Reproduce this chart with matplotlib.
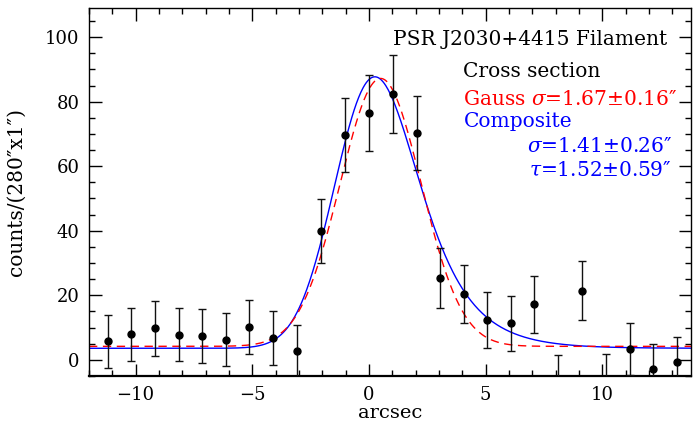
import math
import numpy as np
import matplotlib
matplotlib.use("Agg")
import matplotlib.pyplot as plt
from matplotlib.ticker import MultipleLocator

# ---- data ----
x_arcsec = [-11.2, -10.19, -9.18, -8.15, -7.14, -6.12, -5.13, -4.1, -3.1, -2.07,
            -1.03, 0.0, 1.01, 2.04, 3.04, 4.07, 5.04, 6.1, 7.08, 8.1,
            9.14, 10.15, 11.18, 12.18, 13.2]
counts = [5.8, 7.9, 9.8, 7.8, 7.4, 6.2, 10.2, 6.8, 2.8, 39.9,
          69.6, 76.5, 82.4, 70.4, 25.3, 20.3, 12.4, 11.3, 17.2, -6.4,
          21.4, -6.2, 3.4, -2.8, -0.7]
errors = [8.25, 8.25, 8.5, 8.25, 8.3, 8.2, 8.5, 8.25, 8.1, 10.0,
          11.4, 11.7, 12.0, 11.5, 9.3, 9.0, 8.6, 8.5, 8.8, 8.0,
          9.1, 8.0, 7.95, 7.8, 7.8]

# fitted model parameters (plot units)
gauss_center = 0.5
gauss_sigma = 1.74
gauss_amp = 83.0
gauss_base = 4.2

comp_peak_x = 0.26
comp_sigma = 1.47
comp_tau = 1.58
comp_amp = 84.1
comp_base = 3.6

title_text = "PSR J2030+4415 Filament"
sub_text = "Cross section"
gauss_text = "Gauss $\\sigma$=1.67\u00b10.16\u2033"
comp_text = "Composite"
comp_sig_text = "$\\sigma$=1.41\u00b10.26\u2033"
comp_tau_text = "$\\tau$=1.52\u00b10.59\u2033"

plt.rcParams['font.family'] = ['DejaVu Serif', 'DejaVu Sans']
plt.rcParams['mathtext.fontset'] = 'dejavuserif'

fig = plt.figure(figsize=(6.93, 4.23), dpi=100)
ax = fig.add_axes([0.1284, 0.111, 0.8686, 0.870])

xs = np.linspace(-12, 13.8, 800)
gauss = gauss_base + gauss_amp * np.exp(-(xs - gauss_center) ** 2 / (2 * gauss_sigma ** 2))

def emg(x, mu, s, t):
    z = (s / t - (x - mu) / s) / math.sqrt(2)
    return np.array([math.exp(s * s / (2 * t * t) - (xi - mu) / t) * math.erfc(zi)
                     for xi, zi in zip(x, z)])

raw = emg(xs, 0.0, comp_sigma, comp_tau)
shift = comp_peak_x - xs[np.argmax(raw)]
raw = emg(xs, shift, comp_sigma, comp_tau)
comp = comp_base + comp_amp * raw / raw.max()

ax.plot(xs, comp, color='#0000ff', lw=1.0, zorder=2)
ax.plot(xs, gauss, color='#ff0000', lw=1.0, ls=(0, (6, 4)), zorder=2)

ax.errorbar(x_arcsec, counts, yerr=errors, fmt='o', color='black', ms=5.0,
            ecolor='#111111', elinewidth=1.0, capsize=2.6, capthick=1.0, zorder=3)

ax.set_xlim(-12, 13.8)
ax.set_ylim(-5, 109)
ax.xaxis.set_major_locator(MultipleLocator(5))
ax.xaxis.set_minor_locator(MultipleLocator(1))
ax.yaxis.set_major_locator(MultipleLocator(20))
ax.yaxis.set_minor_locator(MultipleLocator(5))
ax.tick_params(which='both', direction='in', top=True, right=True, labelsize=13, width=1.0)
ax.tick_params(which='major', length=9)
ax.tick_params(which='minor', length=4.5)
ax.tick_params(axis='x', pad=7)
ax.tick_params(axis='y', pad=7)
for s in ax.spines.values():
    s.set_linewidth(1.0)
ax.spines['bottom'].set_linewidth(1.6)

ax.set_xlabel("arcsec", fontsize=14, labelpad=0)
ax.set_ylabel("counts/(280\u2033x1\u2033)", fontsize=14.5)
ax.yaxis.set_label_coords(-0.105, 0.5)

fs = 14.5
ax.text(12.8, 97.5, title_text, ha='right', va='baseline', fontsize=fs, color='black')
ax.text(4.05, 87.5, sub_text, ha='left', va='baseline', fontsize=fs, color='black')
ax.text(4.05, 78.9, gauss_text, ha='left', va='baseline', fontsize=fs, color='#ff0000')
ax.text(4.05, 72.1, comp_text, ha='left', va='baseline', fontsize=fs, color='#0000ff')
ax.text(13.0, 64.4, comp_sig_text, ha='right', va='baseline', fontsize=fs, color='#0000ff')
ax.text(13.0, 57.1, comp_tau_text, ha='right', va='baseline', fontsize=fs, color='#0000ff')

fig.savefig("out.png", dpi=100)
